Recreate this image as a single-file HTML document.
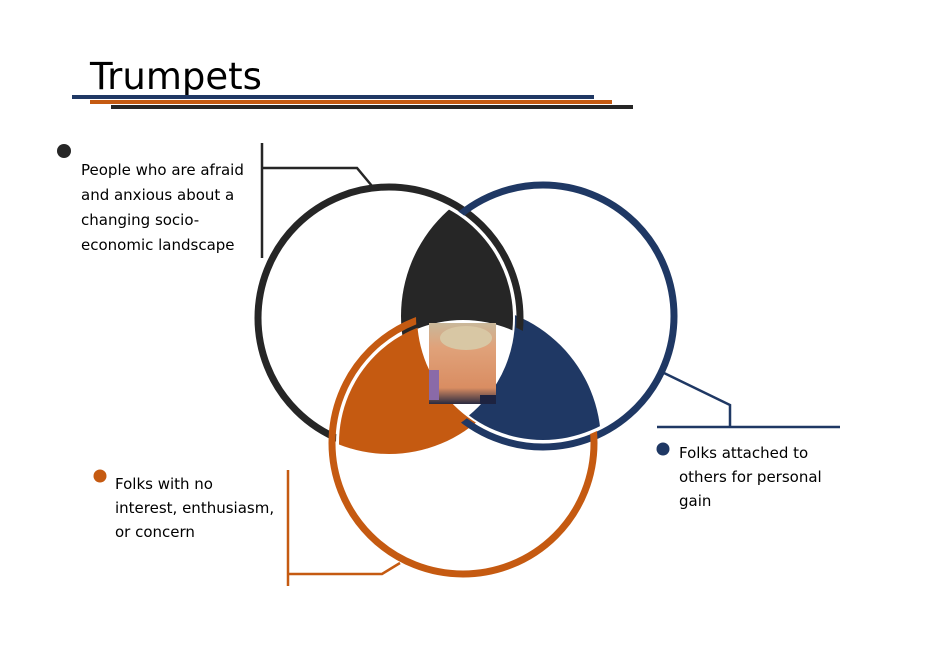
<!DOCTYPE html>
<html><head><meta charset="utf-8"><style>
html,body{margin:0;padding:0;background:#fff;}
svg{display:block;}
text{font-family:"DejaVu Sans","Liberation Sans",sans-serif;}
</style></head><body>
<svg width="927" height="653" viewBox="0 0 927 653" xmlns="http://www.w3.org/2000/svg">
<defs>
  <clipPath id="cBlk"><circle cx="389" cy="318" r="124"/></clipPath>
  <clipPath id="cBlu"><circle cx="543" cy="316" r="124"/></clipPath>
  <clipPath id="cOra"><circle cx="463" cy="443" r="124"/></clipPath>
  <clipPath id="xBlk"><circle cx="389" cy="318" r="136"/></clipPath>
  <clipPath id="xBlu"><circle cx="543" cy="316" r="142"/></clipPath>
  <clipPath id="xOra"><circle cx="463" cy="443" r="138"/></clipPath>
  <mask id="mNoOra"><rect width="927" height="653" fill="#fff"/><circle cx="463" cy="443" r="123" fill="#000"/></mask>
  <mask id="mNoBlk"><rect width="927" height="653" fill="#fff"/><circle cx="389" cy="318" r="126" fill="#000"/></mask>
  <mask id="mNoBlu"><rect width="927" height="653" fill="#fff"/><circle cx="543" cy="316" r="126" fill="#000"/></mask>
  <mask id="rNoOra"><rect width="927" height="653" fill="#fff"/><circle cx="463" cy="443" r="127" fill="#000"/></mask>
  <mask id="rNoBlk"><rect width="927" height="653" fill="#fff"/><circle cx="389" cy="318" r="127" fill="#000"/></mask>
  <mask id="rNoBlu"><rect width="927" height="653" fill="#fff"/><circle cx="543" cy="316" r="127" fill="#000"/></mask>
  <linearGradient id="face" x1="0" y1="0" x2="0" y2="1">
    <stop offset="0" stop-color="#c9b89a"/><stop offset="0.3" stop-color="#e0a27a"/><stop offset="0.8" stop-color="#d98d62"/><stop offset="1" stop-color="#2a2a40"/>
  </linearGradient>
</defs>

<text x="90" y="89" font-size="37" fill="#000">Trumpets</text>
<rect x="72" y="95" width="522" height="4" fill="#1f3864"/>
<rect x="90" y="100" width="522" height="4" fill="#c55a11"/>
<rect x="111" y="105" width="522" height="4" fill="#262626"/>

<!-- fills -->
<g clip-path="url(#cBlk)"><g clip-path="url(#xBlu)"><rect width="927" height="653" fill="#262626" mask="url(#mNoOra)"/></g></g>
<g clip-path="url(#cBlu)"><g clip-path="url(#xOra)"><rect width="927" height="653" fill="#1f3864" mask="url(#mNoBlk)"/></g></g>
<g clip-path="url(#cOra)"><g clip-path="url(#xBlk)"><rect width="927" height="653" fill="#c55a11" mask="url(#mNoBlu)"/></g></g>

<!-- rings -->
<circle cx="389" cy="318" r="131" fill="none" stroke="#262626" stroke-width="7" mask="url(#rNoOra)"/>
<circle cx="543" cy="316" r="131" fill="none" stroke="#1f3864" stroke-width="7" mask="url(#rNoBlk)"/>
<circle cx="463" cy="443" r="131" fill="none" stroke="#c55a11" stroke-width="7" mask="url(#rNoBlu)"/>

<!-- photo -->
<rect x="429" y="323" width="67" height="81" fill="url(#face)"/>
<rect x="429" y="370" width="10" height="30" fill="#8a6aa8"/>
<ellipse cx="466" cy="338" rx="26" ry="12" fill="#d8c7a4"/>
<rect x="480" y="395" width="16" height="9" fill="#1d2340"/>

<!-- connectors -->
<g fill="none" stroke-width="2.5">
  <path d="M262 143 V258 M262 168 H357 L372 186" stroke="#262626"/>
  <path d="M664 373 L730 405 V427 M657 427 H840" stroke="#1f3864"/>
  <path d="M288 470 V586 M288 574 H382 L400 563" stroke="#c55a11"/>
</g>

<circle cx="64" cy="151" r="7" fill="#262626"/>
<circle cx="663" cy="449" r="6.5" fill="#1f3864"/>
<circle cx="100" cy="476" r="6.5" fill="#c55a11"/>

<g font-size="15" fill="#000">
  <text x="81" y="175">People who are afraid</text>
  <text x="81" y="200">and anxious about a</text>
  <text x="81" y="225">changing socio-</text>
  <text x="81" y="250">economic landscape</text>
  <text x="679" y="458">Folks attached to</text>
  <text x="679" y="482">others for personal</text>
  <text x="679" y="506">gain</text>
  <text x="115" y="489">Folks with no</text>
  <text x="115" y="513">interest, enthusiasm,</text>
  <text x="115" y="537">or concern</text>
</g>
</svg>
</body></html>
